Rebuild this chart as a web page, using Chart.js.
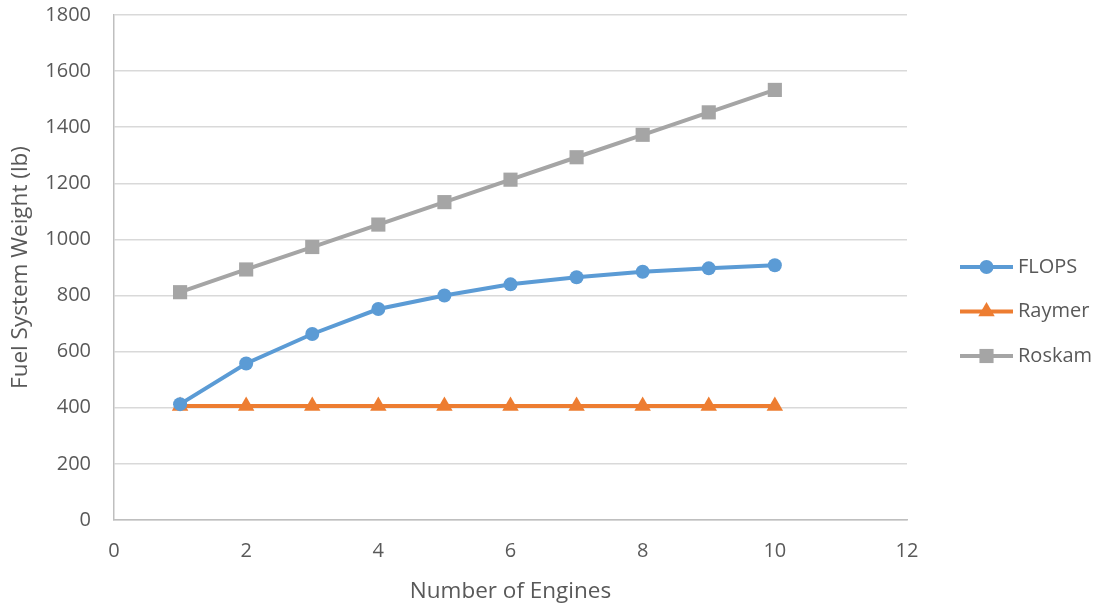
<!DOCTYPE html>
<html>
<head>
<meta charset="utf-8">
<script src="https://cdn.jsdelivr.net/npm/chart.js@4.4.1/dist/chart.umd.min.js"></script>
<style>
  html, body { margin: 0; padding: 0; background: #fff; }
  #wrap { width: 1097px; height: 605px; position: relative; }
</style>
</head>
<body>
<div id="wrap"><canvas id="c" width="1097" height="605"></canvas></div>
<script>
const engines = [1, 2, 3, 4, 5, 6, 7, 8, 9, 10];
const flops   = [413, 558, 663, 752, 800, 840, 865, 885, 897, 908];
const raymer  = [406, 406, 406, 406, 406, 406, 406, 406, 406, 406];
const roskam  = [812, 893, 973, 1053, 1133, 1213, 1293, 1373, 1453, 1533];
const seriesNames = ['FLOPS', 'Raymer', 'Roskam'];
const xTitle = 'Number of Engines';
const yTitle = 'Fuel System Weight (lb)';

const FONT = '"Open Sans", Lato, sans-serif';
const FS = 20;
const TFS = 22.5;
const TXT = '#595959';

function pts(vals) { return engines.map((x, i) => ({ x: x, y: vals[i] })); }

const colors = ['#5B9BD5', '#ED7D31', '#A5A5A5'];
const styles = ['circle', 'triangle', 'rect'];
const radii = [7, 9.5, 10];

const datasets = [flops, raymer, roskam].map((v, i) => ({
  label: seriesNames[i],
  data: pts(v),
  borderColor: colors[i],
  backgroundColor: colors[i],
  borderWidth: 4,
  pointStyle: styles[i],
  pointRadius: radii[i],
  pointHoverRadius: radii[i],
  pointBorderWidth: 0,
  pointBackgroundColor: colors[i],
  tension: 0
}));

const legendPlugin = {
  id: 'lineLegend',
  afterDraw(chart) {
    const ctx = chart.ctx;
    const x0 = 960, x1 = 1013, yStart = 267, gap = 44.5;
    ctx.save();
    chart.data.datasets.forEach((ds, i) => {
      const y = yStart + i * gap;
      ctx.strokeStyle = ds.borderColor;
      ctx.lineWidth = 4;
      ctx.beginPath();
      ctx.moveTo(x0, y);
      ctx.lineTo(x1, y);
      ctx.stroke();
      ctx.fillStyle = ds.backgroundColor;
      ctx.strokeStyle = ds.backgroundColor;
      Chart.helpers.drawPoint(ctx, { pointStyle: ds.pointStyle, rotation: 0, radius: ds.pointRadius, borderWidth: 0 }, (x0 + x1) / 2, y);
      ctx.fillStyle = TXT;
      ctx.font = FS + 'px ' + FONT;
      ctx.textBaseline = 'middle';
      ctx.textAlign = 'left';
      ctx.fillText(ds.label, x1 + 5, y);
    });
    ctx.restore();
  }
};

new Chart(document.getElementById('c'), {
  type: 'line',
  data: { datasets: datasets },
  options: {
    responsive: false,
    animation: false,
    devicePixelRatio: 1,
    layout: { padding: { left: 0, right: 190, top: 0, bottom: 0 } },
    plugins: {
      legend: { display: false },
      tooltip: { enabled: false }
    },
    scales: {
      x: {
        type: 'linear',
        min: 0, max: 12,
        ticks: { stepSize: 2, color: TXT, font: { family: FONT, size: FS }, padding: 19, callback: v => String(v) },
        grid: { display: false, drawTicks: false },
        border: { display: true, color: '#BFBFBF', width: 1.5 },
        title: { display: true, text: xTitle, color: TXT, font: { family: FONT, size: TFS }, padding: { top: 5, bottom: 0 } },
        afterFit(s) { s.height = 85; }
      },
      y: {
        min: 0, max: 1800,
        ticks: { stepSize: 200, color: TXT, font: { family: FONT, size: FS }, padding: 3, callback: v => String(v) },
        grid: { color: '#D9D9D9', lineWidth: 1.5, drawTicks: true, tickLength: 20, tickColor: 'rgba(0,0,0,0)' },
        border: { display: true, color: '#BFBFBF', width: 1.5 },
        title: { display: true, text: yTitle, color: TXT, font: { family: FONT, size: TFS }, padding: { top: 7, bottom: 0 } },
        afterFit(s) { s.width = 114; }
      }
    }
  },
  plugins: [legendPlugin]
});
</script>
</body>
</html>
